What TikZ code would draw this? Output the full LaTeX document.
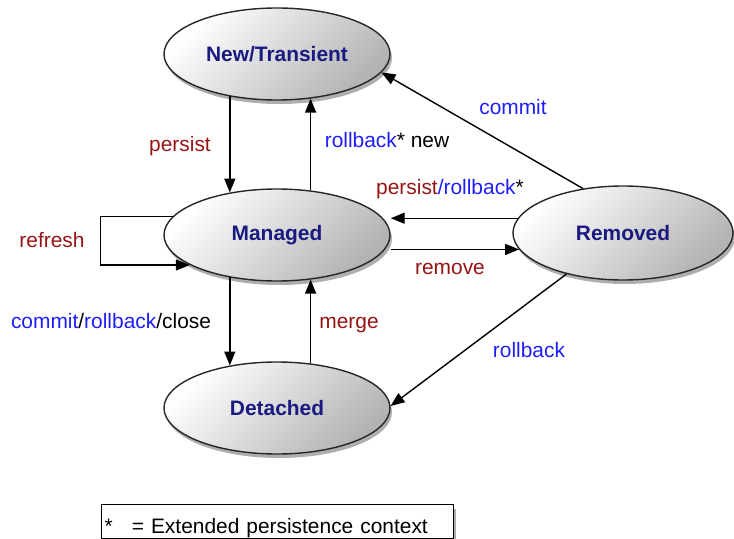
\documentclass[tikz,border=0pt]{standalone}
\usepackage{fontspec}
\setmainfont{Liberation Sans}
\usetikzlibrary{shapes.geometric,shadows,arrows.meta}
\definecolor{statenavy}{RGB}{26,26,128}
\definecolor{actred}{RGB}{150,20,20}
\definecolor{actblue}{RGB}{30,30,250}

\begin{document}
\begin{tikzpicture}[x=1bp,y=-1bp,
	softshadow/.style={drop shadow={fill=black!70,opacity=.45,shadow xshift=2bp,shadow yshift=-4bp}},
	state/.style={ellipse,draw=black!85,line width=1.4bp,minimum width=226bp,minimum height=92bp,inner sep=0pt,top color=white,bottom color=black!30,shading angle=45,softshadow,text=statenavy,font=\fontsize{21}{25}\selectfont\bfseries},
	trans/.style={line width=1.4bp,-{Triangle[length=14bp,width=11bp]}},
	lbl/.style={anchor=base,inner sep=0pt,font=\fontsize{21}{25}\selectfont},
	keybox/.style={draw,line width=1.4bp,fill=white,anchor=north west,text width=346bp,align=left,inner xsep=3bp,inner ysep=0pt,text height=29bp,text depth=5bp,softshadow,font=\fontsize{21}{25}\selectfont}]
	\useasboundingbox (0,0) rectangle (734,539);
	\node[state] (new) at (277,54) {New/Transient};
	\node[state] (managed) at (277,235) {Managed};
	\node[state] (detached) at (277,408) {Detached};
	\node[state,minimum width=220bp,minimum height=94bp] (removed) at (623,233) {Removed};
	\draw[trans] (new.222) -- (managed.138);
	\draw[trans] (managed.53) -- (new.307);
	\draw[trans] (removed.132) -- (new.350);
	\draw[trans] (removed.172) -- (removed.172 -| managed.east);
	\draw[trans] (managed.east |- removed.189) -- (removed.189);
	\draw[trans] (removed.216) -- (detached.1);
	\draw[trans] (managed.170) -| ([xshift=-63bp]managed.west) |- (managed.199);
	\draw[trans] (managed.222) -- (detached.138);
	\draw[trans] (detached.53) -- (managed.307);
	\node[lbl,text=actred] (persistlbl) at (180,152) {persist};
	\node[lbl] (rollbacknewlbl) at (387,148) {\textcolor{actblue}{rollback}* new};
	\node[lbl,text=actblue] (commitlbl) at (513,115) {commit};
	\node[lbl] (persistrollbacklbl) at (450,195) {\textcolor{actred}{persist}\textcolor{actblue}{/rollback}*};
	\node[lbl,text=actred] (removelbl) at (450,275) {remove};
	\node[lbl,text=actred] (refreshlbl) at (52,248) {refresh};
	\node[lbl] (closelbl) at (111,328) {\textcolor{actblue}{commit}/\textcolor{actblue}{rollback}/close};
	\node[lbl,text=actred] (mergelbl) at (349,328) {merge};
	\node[lbl,text=actblue] (rollbacklbl) at (529,357) {rollback};
	\node[keybox] (key) at (101,504) {*\hspace{19bp}= Extended persistence context};
\end{tikzpicture}
\end{document}
